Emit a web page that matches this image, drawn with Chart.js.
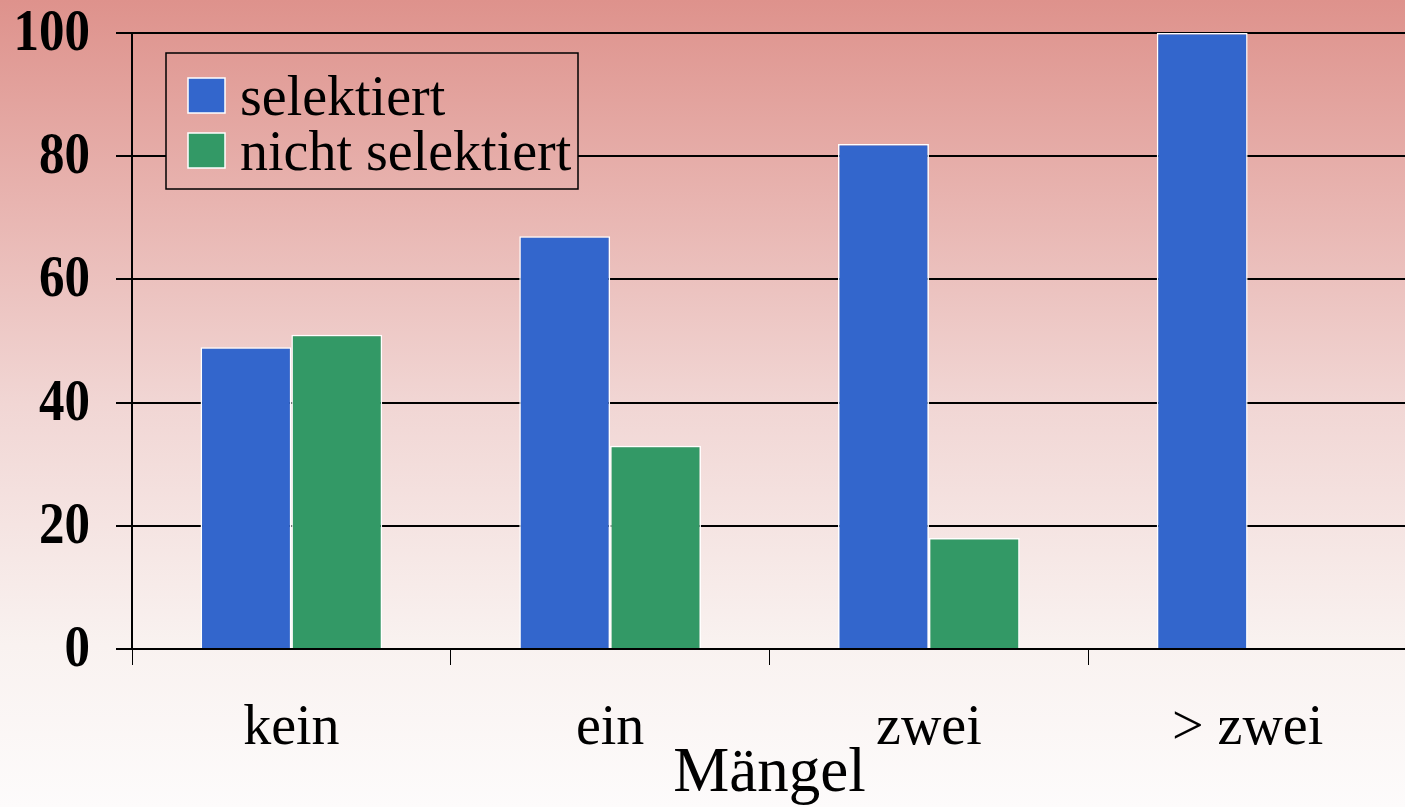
<!DOCTYPE html>
<html>
<head>
<meta charset="utf-8">
<script src="https://cdn.jsdelivr.net/npm/chart.js@4/dist/chart.umd.min.js"></script>
<style>
  html, body { margin: 0; padding: 0; overflow: hidden; background: #fff; }
  canvas { display: block; }
</style>
</head>
<body>
<canvas id="chart" width="1410" height="807"></canvas>
<script>
// data (percent)
const kategorien = ["kein", "ein", "zwei", "> zwei"];
const selektiert = [49, 67, 82, 100];
const nichtSelektiert = [51, 33, 18, 0];
const yTicks = [0, 20, 40, 60, 80, 100];

const SERIF = '"Liberation Serif", "Times New Roman", serif';

function bgGradient(ctx, h) {
  const g = ctx.createLinearGradient(0, 0, 0, h);
  g.addColorStop(0, "rgb(222,146,140)");
  g.addColorStop(0.25, "rgb(232,180,176)");
  g.addColorStop(0.5, "rgb(241,214,212)");
  g.addColorStop(0.8, "rgb(249,242,240)");
  g.addColorStop(1, "rgb(253,251,251)");
  return g;
}

// gradient background behind everything
const hintergrund = {
  id: "hintergrund",
  beforeDraw(chart) {
    const ctx = chart.ctx;
    ctx.save();
    ctx.fillStyle = bgGradient(ctx, chart.height);
    ctx.fillRect(0, 0, chart.width, chart.height);
    ctx.restore();
  }
};

// tall y labels, positioned by the y scale
const yLabels = {
  id: "yLabels",
  afterDraw(chart) {
    const ctx = chart.ctx, y = chart.scales.y;
    ctx.save();
    ctx.font = "bold 51px " + SERIF;
    ctx.textAlign = "right";
    ctx.textBaseline = "alphabetic";
    ctx.fillStyle = "#000";
    y.ticks.forEach(t => {
      const py = y.getPixelForValue(t.value);
      ctx.save();
      ctx.translate(90, py + 17);
      ctx.scale(1, 1.18);
      ctx.fillText(String(t.value), 0, 0);
      ctx.restore();
    });
    ctx.restore();
  }
};

// boxed legend inside the plot
const legendBox = {
  id: "legendBox",
  afterDraw(chart) {
    const ctx = chart.ctx;
    const x0 = 166, y0 = 53, w = 412, h = 136;
    ctx.save();
    ctx.fillStyle = bgGradient(ctx, chart.height);
    ctx.fillRect(x0, y0, w, h);
    ctx.strokeStyle = "#000";
    ctx.lineWidth = 1.5;
    ctx.strokeRect(x0, y0, w, h);
    ctx.font = "56px " + SERIF;
    ctx.textBaseline = "alphabetic";
    chart.data.datasets.forEach((ds, i) => {
      const cy = 95.5 + i * 55;
      ctx.fillStyle = ds.backgroundColor;
      ctx.fillRect(188, cy - 17.5, 37, 35);
      ctx.strokeStyle = "#fff";
      ctx.lineWidth = 1.5;
      ctx.strokeRect(188, cy - 17.5, 37, 35);
      ctx.fillStyle = "#000";
      ctx.fillText(ds.label, 240, cy + 19.5);
    });
    ctx.restore();
  }
};

new Chart(document.getElementById("chart"), {
  type: "bar",
  data: {
    labels: kategorien,
    datasets: [
      { label: "selektiert", data: selektiert, backgroundColor: "#3366cc",
        borderColor: "#fff", borderWidth: 1.5 },
      { label: "nicht selektiert", data: nichtSelektiert, backgroundColor: "#339966",
        borderColor: "#fff", borderWidth: 1.5 }
    ]
  },
  options: {
    responsive: false,
    animation: false,
    events: [],
    layout: { padding: { left: 116, top: 33, right: 3, bottom: 0 } },
    datasets: { bar: { categoryPercentage: 0.57, barPercentage: 1.0 } },
    plugins: {
      legend: { display: false },
      tooltip: { enabled: false }
    },
    scales: {
      x: {
        offset: true,
        grid: { offset: true, drawOnChartArea: false, drawTicks: true, tickLength: 16,
                color: "#000", lineWidth: 1 },
        border: { display: true, color: "#000", width: 2 },
        ticks: { color: "#000", padding: 36, font: { family: SERIF, size: 56, lineHeight: 1 } },
        title: { display: true, text: "Mängel", color: "#000",
                 font: { family: SERIF, size: 63, lineHeight: 1 },
                 padding: { top: -50, bottom: 1 } }
      },
      y: {
        min: 0, max: 100,
        afterBuildTicks: ax => { ax.ticks = yTicks.map(v => ({ value: v })); },
        grid: { color: "#000", lineWidth: 2, tickLength: 16, drawTicks: true },
        border: { display: true, color: "#000", width: 2 },
        ticks: { display: false }
      }
    }
  },
  plugins: [hintergrund, yLabels, legendBox]
});
</script>
</body>
</html>
